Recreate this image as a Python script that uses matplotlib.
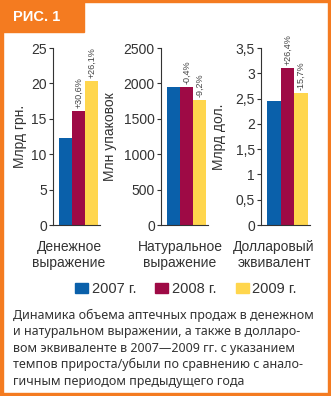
import matplotlib
matplotlib.use("Agg")
import matplotlib.pyplot as plt
import matplotlib.patches as mpatches

# ── данные ────────────────────────────────────────────────────
YEARS = ["2007 г.", "2008 г.", "2009 г."]
COLORS = ["#0A60AA", "#9E0A45", "#FFD64D"]

CATEGORIES = ["Денежное\nвыражение", "Натуральное\nвыражение", "Долларовый\nэквивалент"]
YLABELS = ["Млрд грн.", "Млн упаковок", "Млрд дол."]

money_uah = [12.3, 16.1, 20.3]
packages = [1956, 1948, 1769]
money_usd = [2.45, 3.10, 2.61]

money_uah_growth = ["", "+30,6%", "+26,1%"]
packages_growth = ["", "-0,4%", "-9,2%"]
money_usd_growth = ["", "+26,4%", "-15,7%"]

YTICKS = [
    [0, 5, 10, 15, 20, 25],
    [0, 500, 1000, 1500, 2000, 2500],
    [0, 0.5, 1, 1.5, 2, 2.5, 3, 3.5],
]
YTICKLABELS = [
    ["0", "5", "10", "15", "20", "25"],
    ["0", "500", "1000", "1500", "2000", "2500"],
    ["0", "0,5", "1", "1,5", "2", "2,5", "3", "3,5"],
]

ORANGE = "#F47B20"
TXT = "#333333"
W, H = 331, 396

plt.rcParams["font.family"] = ["Liberation Sans", "DejaVu Sans"]

fig = plt.figure(figsize=(W / 100, H / 100), dpi=100)
fig.patch.set_facecolor("white")


def px(x, y):
    return x / W, 1 - y / H


# рамка
for (x0, y0, w, h) in [(0, 0, W, 2), (0, 0, 3, H), (W - 3, 0, 3, H), (0, H - 3, W, 3)]:
    fig.patches.append(mpatches.Rectangle((x0 / W, 1 - (y0 + h) / H), w / W, h / H,
                                          transform=fig.transFigure, color=ORANGE, zorder=0))
# плашка "РИС. 1"
fig.patches.append(mpatches.Rectangle((0, 1 - 32 / H), 84 / W, 32 / H,
                                      transform=fig.transFigure, color=ORANGE, zorder=0))
fig.text(*px(37, 17), "РИС. 1", ha="center", va="center", fontsize=10.5,
         fontweight="bold", color="white")

# ── панели ────────────────────────────────────────────────────
panels = [
    (53, 47, money_uah, money_uah_growth, -0.70),
    (161, 47, packages, packages_growth, -1.09),
    (261, 49, money_usd, money_usd_growth, -0.86),
]
label_x = [69, 180, 274]

for i, (left, width, vals, growth, ylab_x) in enumerate(panels):
    ax = fig.add_axes([left / W, 1 - 225 / H, width / W, 177 / H])
    xs = range(len(vals))
    bars = ax.bar(xs, vals, width=1.0, color=COLORS, linewidth=0)
    for b, g in zip(bars, growth):
        if g:
            ax.annotate(g, (b.get_x() + b.get_width() / 2, b.get_height()),
                        xytext=(0, 2), textcoords="offset points",
                        ha="center", va="bottom", rotation=90, fontsize=6.5,
                        color="#444444",
                        family=["Liberation Sans Narrow", "Liberation Sans"])
    ax.set_xlim(-0.95, 2.65)
    ax.set_ylim(YTICKS[i][0], YTICKS[i][-1])
    ax.set_yticks(YTICKS[i])
    ax.set_yticklabels(YTICKLABELS[i])
    ax.set_xticks([])
    for s in ["top", "right"]:
        ax.spines[s].set_visible(False)
    for s in ["left", "bottom"]:
        ax.spines[s].set_color(TXT)
        ax.spines[s].set_linewidth(0.8)
    ax.tick_params(axis="y", length=3, width=0.8, color=TXT, pad=1.5,
                   labelsize=10, labelcolor=TXT)
    ax.set_ylabel(YLABELS[i], fontsize=10, color=TXT, va="center")
    ax.yaxis.set_label_coords(ylab_x, 0.5)
    ax.patch.set_alpha(0)

    fig.text(*px(label_x[i], 255), CATEGORIES[i], ha="center", va="center",
             fontsize=10, color=TXT, linespacing=1.15)

# легенда
handles = [mpatches.Patch(color=c, label=y) for c, y in zip(COLORS, YEARS)]
fig.legend(handles=handles, loc="center", bbox_to_anchor=px(186, 289), ncol=3,
           frameon=False, fontsize=10.5, handlelength=0.9, handleheight=0.75,
           handletextpad=0.25, columnspacing=1.3, labelcolor=TXT)

# подпись
caption = [
    "Динамика объема аптечных продаж в денежном",
    "и натуральном выражении, а также в долларо-",
    "вом эквиваленте в 2007—2009 гг. с указанием",
    "темпов прироста/убыли по сравнению с анало-",
    "гичным периодом предыдущего года",
]
for k, line in enumerate(caption):
    fig.text(*px(13, 315 + k * 16.6), line, ha="left", va="center",
             fontsize=9, color=TXT, family=["Noto Sans", "DejaVu Sans"])

fig.savefig("out.png", dpi=100, facecolor="white")
